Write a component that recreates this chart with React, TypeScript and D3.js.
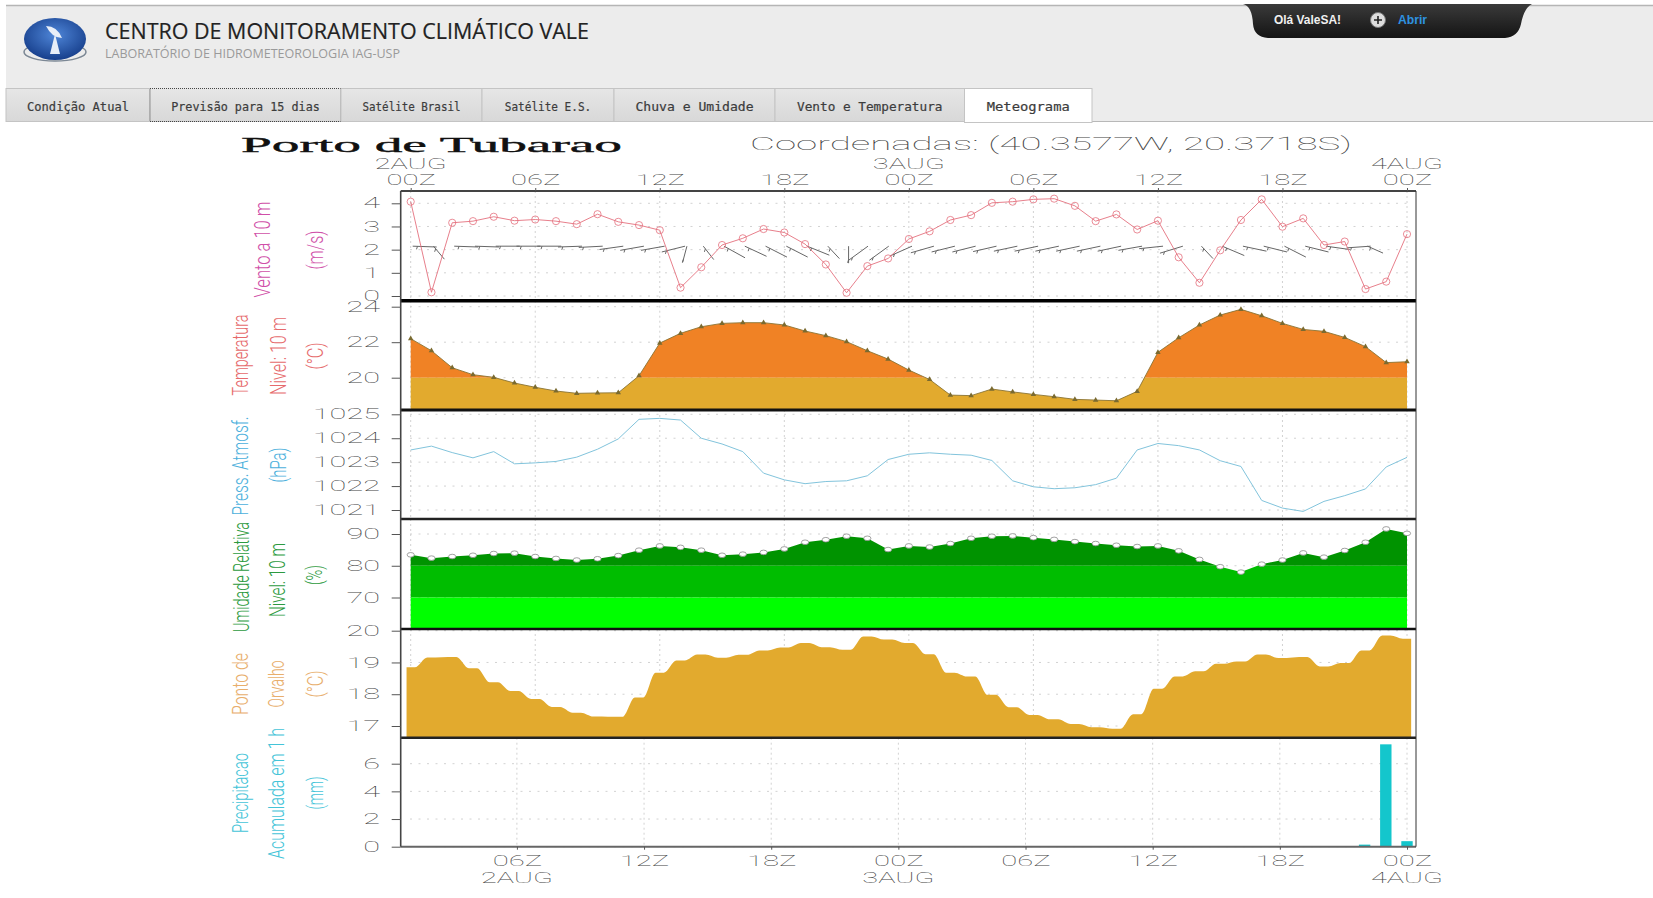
import { useEffect, useRef } from 'react';
import * as d3 from 'd3';

const windSpeed = [4.07, 0.16, 3.16, 3.23, 3.42, 3.25, 3.3, 3.23, 3.1, 3.53, 3.2, 3.06, 2.84, 0.36, 1.24, 2.2, 2.49, 2.89, 2.74, 2.24, 1.36, 0.14, 1.29, 1.62, 2.46, 2.79, 3.28, 3.49, 4.02, 4.07, 4.17, 4.2, 3.89, 3.23, 3.52, 2.87, 3.25, 1.67, 0.57, 1.97, 3.28, 4.17, 2.99, 3.35, 2.2, 2.35, 0.3, 0.62, 2.67];
// barb shaft angle per hour, degrees from horizontal (positive = falling to the right)
const windAngle: (number | null)[] = [2, 50, 2, 2, 0, 0, 0, -2, -3, -8, -10, -10, -14, -75, 52, 29, 25, 27, 27, 22, 47, -90, -36, -24, -16, -14, -14, -13, -12, -12, -12, -12, -12, -12, -10, -6, -17, null, 47, 23, 12, 14, 27, 14, 8, -4, 24, null, null];
const temperature = [22.2, 21.52, 20.56, 20.17, 20.02, 19.7, 19.46, 19.25, 19.12, 19.14, 19.15, 20.11, 21.95, 22.5, 22.87, 23.06, 23.1, 23.1, 22.97, 22.63, 22.37, 22.03, 21.52, 21.05, 20.43, 19.9, 19.02, 18.99, 19.36, 19.2, 19.06, 18.93, 18.78, 18.74, 18.7, 19.23, 21.43, 22.25, 22.97, 23.53, 23.85, 23.49, 23.06, 22.72, 22.61, 22.27, 21.75, 20.85, 20.9];
const pressure = [1023.51, 1023.67, 1023.4, 1023.18, 1023.44, 1022.93, 1022.97, 1023.03, 1023.21, 1023.54, 1023.97, 1024.79, 1024.83, 1024.76, 1024.0, 1023.76, 1023.44, 1022.54, 1022.26, 1022.1, 1022.19, 1022.22, 1022.43, 1023.11, 1023.33, 1023.39, 1023.33, 1023.29, 1023.07, 1022.22, 1021.97, 1021.89, 1021.93, 1022.06, 1022.33, 1023.51, 1023.78, 1023.69, 1023.51, 1023.06, 1022.82, 1021.4, 1021.08, 1020.94, 1021.36, 1021.6, 1021.88, 1022.8, 1023.2];
const humidity = [83.44, 82.4, 82.9, 83.3, 83.85, 83.96, 82.9, 82.3, 81.8, 82.2, 83.2, 84.9, 86.25, 85.8, 84.9, 83.3, 83.65, 84.2, 85.3, 87.4, 88.2, 89.3, 88.65, 85.1, 86.25, 85.9, 87.0, 88.65, 89.3, 89.4, 88.85, 88.3, 87.6, 87, 86.45, 86.05, 86.25, 84.7, 82, 79.7, 78, 80.5, 81.8, 84.05, 82.7, 84.8, 87.4, 91.6, 90.2];
const dewPoint = [18.85, 19.16, 19.17, 18.82, 18.38, 18.1, 17.85, 17.6, 17.42, 17.3, 17.29, 17.9, 18.68, 19.06, 19.25, 19.15, 19.24, 19.38, 19.47, 19.61, 19.48, 19.4, 19.82, 19.72, 19.61, 19.26, 18.68, 18.56, 17.98, 17.59, 17.35, 17.21, 17.06, 16.96, 16.91, 17.37, 18.17, 18.56, 18.72, 18.96, 19.03, 19.25, 19.14, 19.17, 18.87, 18.98, 19.38, 19.85, 19.75];
const rainHours = [46, 47, 48];
const rainValues = [0.15, 7.4, 0.4];

const topTicks = [0, 6, 12, 18, 24, 30, 36, 42, 48];
const topTickLabels = ['00Z', '06Z', '12Z', '18Z', '00Z', '06Z', '12Z', '18Z', '00Z'];
const bottomTicks = [6, 12, 18, 24, 30, 36, 42, 48];
const bottomTickLabels = ['06Z', '12Z', '18Z', '00Z', '06Z', '12Z', '18Z', '00Z'];
const topDays: [number, string][] = [[0, '2AUG'], [24, '3AUG'], [48, '4AUG']];
const bottomDays: [number, string][] = [[6, '2AUG'], [24, '3AUG'], [48, '4AUG']];
const navTabs = ['Condição Atual', 'Previsão para 15 dias', 'Satélite Brasil', 'Satélite E.S.', 'Chuva e Umidade', 'Vento e Temperatura', 'Meteograma'];
const navEdges = [6, 150, 341, 482, 614, 775, 964.5, 1092];
const navTextWidths = [102, 148.6, 98, 86.4, 118, 145.5, 83];

const hours = d3.range(49);
const GRADS_FONT = "Roboto, 'Liberation Sans', sans-serif";
const panelEdges = [191, 300.7, 410, 519, 629, 737.7, 846.7];
const plotLeft = 400.7;
const plotRight = 1416;

const axisTitles = [
  { text: 'Vento a 10 m', cx: 262, cy: 249.5, len: 96, color: '#d04fa8' },
  { text: '(m/s)', cx: 315, cy: 250, len: 39, color: '#d04fa8' },
  { text: 'Temperatura', cx: 240, cy: 355, len: 81, color: '#e66a6c' },
  { text: 'Nivel: 10 m', cx: 278, cy: 356, len: 78, color: '#e66a6c' },
  { text: '(°C)', cx: 315, cy: 356, len: 27, color: '#e66a6c' },
  { text: 'Press. Atmosf.', cx: 240, cy: 466, len: 99, color: '#4cb0dc' },
  { text: '(hPa)', cx: 278, cy: 465, len: 35, color: '#4cb0dc' },
  { text: 'Umidade Relativa', cx: 241, cy: 577, len: 110, color: '#2c9a40' },
  { text: 'Nivel: 10 m', cx: 277, cy: 580, len: 74, color: '#2c9a40' },
  { text: '(%)', cx: 314, cy: 575, len: 20, color: '#2c9a40' },
  { text: 'Ponto de', cx: 240, cy: 684, len: 62, color: '#e8ae6c' },
  { text: 'Orvalho', cx: 276.5, cy: 684, len: 47, color: '#e8ae6c' },
  { text: '(°C)', cx: 315, cy: 684, len: 27, color: '#e8ae6c' },
  { text: 'Precipitacao', cx: 240, cy: 793, len: 80, color: '#44c4d8' },
  { text: 'Acumulada em 1 h', cx: 276.5, cy: 793.5, len: 131, color: '#44c4d8' },
  { text: '(mm)', cx: 315, cy: 793, len: 33, color: '#44c4d8' },
];

function stretched(selection: any, perChar: number) {
  selection
    .attr('font-family', GRADS_FONT)
    .attr('font-weight', 100)
    .attr('font-size', 14.5)
    .attr('fill', '#444')
    .attr('lengthAdjust', 'spacingAndGlyphs')
    .attr('textLength', function (this: SVGTextElement) {
      return (this.textContent ?? '').length * perChar;
    });
}

export default function App() {
  const svgRef = useRef<SVGSVGElement>(null);

  useEffect(() => {
    if (!svgRef.current) return;
    const svg = d3.select(svgRef.current);
    svg.select('.meteogram').remove();
    const chart = svg.append('g').attr('class', 'meteogram');
    const defs = chart.append('defs');

    const x = d3.scaleLinear().domain([0, 48]).range([410.7, 1407]);
    const xLow = d3.scaleLinear().domain([6, 48]).range([516.9, 1407]);

    const yWind = d3.scaleLinear().domain([0, 4]).range([296, 203.3]);
    const yTemp = d3.scaleLinear().domain([20, 24]).range([377.7, 306.7]);
    const yPress = d3.scaleLinear().domain([1021, 1025]).range([510, 414.3]);
    const yHum = d3.scaleLinear().domain([70, 90]).range([597.5, 534]);
    const yDew = d3.scaleLinear().domain([17, 20]).range([726, 630.7]);
    const yRain = d3.scaleLinear().domain([0, 6]).range([846.7, 763.7]);

    const panels = [
      { y: yWind, ticks: [0, 1, 2, 3, 4], scaleX: x, xTicks: topTicks },
      { y: yTemp, ticks: [20, 22, 24], scaleX: x, xTicks: topTicks },
      { y: yPress, ticks: [1021, 1022, 1023, 1024, 1025], scaleX: x, xTicks: topTicks },
      { y: yHum, ticks: [70, 80, 90], scaleX: x, xTicks: topTicks },
      { y: yDew, ticks: [17, 18, 19, 20], scaleX: x, xTicks: topTicks },
      { y: yRain, ticks: [0, 2, 4, 6], scaleX: xLow, xTicks: bottomTicks },
    ];

    // grid first, the fills cover it
    panels.forEach((panel, i) => {
      const grid = chart.append('g');
      grid
        .selectAll('line.h')
        .data(panel.ticks)
        .join('line')
        .attr('class', 'h')
        .attr('x1', 410)
        .attr('x2', 1412)
        .attr('y1', (d) => panel.y(d))
        .attr('y2', (d) => panel.y(d))
        .attr('stroke', '#d2d2d2')
        .attr('stroke-dasharray', '2 6.5');
      grid
        .selectAll('line.v')
        .data(panel.xTicks)
        .join('line')
        .attr('class', 'v')
        .attr('x1', (d) => panel.scaleX(d))
        .attr('x2', (d) => panel.scaleX(d))
        .attr('y1', panelEdges[i])
        .attr('y2', panelEdges[i + 1])
        .attr('stroke', '#d2d2d2')
        .attr('stroke-dasharray', '2 3');
    });

    // wind
    const barbTop = yWind(2.15);
    const barbEnds = (h: number, angle: number, len: number) => {
      const rad = (angle * Math.PI) / 180;
      const dx = len * Math.cos(rad);
      const dy = len * Math.sin(rad);
      const x0 = x(h) + 2;
      return dy >= 0
        ? { x1: x0, y1: barbTop, x2: x0 + dx, y2: barbTop + dy }
        : { x1: x0, y1: barbTop - dy, x2: x0 + dx, y2: barbTop };
    };
    const barbs = hours.filter((h) => windAngle[h] !== null).map((h) => {
      const short = windSpeed[h] < 1.4 && h !== 22 ? 17 : 24;
      return barbEnds(h, windAngle[h] as number, short);
    });
    barbs.push(barbEnds(21, -36, 24));
    const barbGroup = chart.append('g').attr('stroke', '#666').attr('stroke-width', 1);
    barbGroup
      .selectAll('line.shaft')
      .data(barbs)
      .join('line')
      .attr('class', 'shaft')
      .attr('x1', (d) => d.x1)
      .attr('y1', (d) => d.y1)
      .attr('x2', (d) => d.x2)
      .attr('y2', (d) => d.y2);
    barbGroup
      .selectAll('line.feather')
      .data(barbs)
      .join('line')
      .attr('class', 'feather')
      .attr('x1', (d) => d.x1 + (d.x2 - d.x1) * 0.2)
      .attr('y1', (d) => d.y1 + (d.y2 - d.y1) * 0.2)
      .attr('x2', (d) => d.x1 + (d.x2 - d.x1) * 0.2 - 1)
      .attr('y2', (d) => d.y1 + (d.y2 - d.y1) * 0.2 + 3);

    const windLine = d3.line<number>().x((h) => x(h)).y((h) => yWind(windSpeed[h]));
    chart
      .append('path')
      .attr('d', windLine(hours))
      .attr('fill', 'none')
      .attr('stroke', '#e4707e')
      .attr('stroke-width', 0.9);
    chart
      .append('g')
      .selectAll('circle')
      .data(hours)
      .join('circle')
      .attr('cx', (h) => x(h))
      .attr('cy', (h) => yWind(windSpeed[h]))
      .attr('r', 3.6)
      .attr('fill', 'none')
      .attr('stroke', '#e4707e')
      .attr('stroke-width', 0.8);

    // banded fills: one area, clipped to each colour band
    const band = (
      id: string,
      y0: number,
      y1: number,
      color: string,
      values: number[],
      yScale: d3.ScaleLinear<number, number>,
      bottom: number
    ) => {
      defs
        .append('clipPath')
        .attr('id', id)
        .append('rect')
        .attr('x', 400)
        .attr('width', 1020)
        .attr('y', y0)
        .attr('height', y1 - y0);
      const area = d3.area<number>().x((h) => x(h)).y0(bottom).y1((h) => yScale(values[h]));
      chart
        .append('path')
        .attr('d', area(hours))
        .attr('fill', color)
        .attr('clip-path', `url(#${id})`);
    };

    band('temp-hot', panelEdges[1], yTemp(20), '#f08225', temperature, yTemp, panelEdges[2]);
    band('temp-cool', yTemp(20), panelEdges[2], '#e2aa2e', temperature, yTemp, panelEdges[2]);
    chart
      .append('path')
      .attr('d', d3.line<number>().x((h) => x(h)).y((h) => yTemp(temperature[h]))(hours))
      .attr('fill', 'none')
      .attr('stroke', '#8a7434')
      .attr('stroke-width', 0.9);
    chart
      .append('g')
      .selectAll('path')
      .data(hours)
      .join('path')
      .attr('d', d3.symbol(d3.symbolTriangle, 13))
      .attr('transform', (h) => `translate(${x(h)},${yTemp(temperature[h])})`)
      .attr('fill', '#7a6a30');

    // pressure
    chart
      .append('path')
      .attr('d', d3.line<number>().x((h) => x(h)).y((h) => yPress(pressure[h]))(hours))
      .attr('fill', 'none')
      .attr('stroke', '#82c4dc')
      .attr('stroke-width', 1);

    // humidity
    band('hum-high', panelEdges[3], yHum(80), '#009300', humidity, yHum, panelEdges[4]);
    band('hum-mid', yHum(80), yHum(70), '#00bd00', humidity, yHum, panelEdges[4]);
    band('hum-low', yHum(70), panelEdges[4], '#00ff00', humidity, yHum, panelEdges[4]);
    chart
      .append('g')
      .selectAll('ellipse')
      .data(hours)
      .join('ellipse')
      .attr('cx', (h) => x(h))
      .attr('cy', (h) => yHum(humidity[h]))
      .attr('rx', 3.6)
      .attr('ry', 2.3)
      .attr('fill', '#fff')
      .attr('stroke', '#8a8a8a')
      .attr('stroke-width', 0.8);

    // dew point: each hourly value holds as a short plateau
    const dewArea = d3
      .area<[number, number]>()
      .x((d) => x(d[0]))
      .y0(panelEdges[5])
      .y1((d) => yDew(d[1]))
      .curve(d3.curveMonotoneX);
    const dewPoints = hours.flatMap((h): [number, number][] => [
      [h - 0.2, dewPoint[h]],
      [h + 0.2, dewPoint[h]],
    ]);
    chart.append('path').attr('d', dewArea(dewPoints)).attr('fill', '#e2aa2e');

    // rain
    chart
      .append('g')
      .selectAll('rect')
      .data(rainHours)
      .join('rect')
      .attr('x', (h) => xLow(h) - 5.7)
      .attr('width', 11.4)
      .attr('y', (h, i) => yRain(rainValues[i]))
      .attr('height', (h, i) => yRain(0) - yRain(rainValues[i]))
      .attr('fill', '#14c6cc');

    // frames
    const frameWidths = [2, 3.5, 3, 2.5, 2.5, 2.5, 2];
    const frameColors = ['#444', '#000', '#111', '#222', '#111', '#222', '#666'];
    chart
      .append('g')
      .selectAll('line')
      .data(panelEdges)
      .join('line')
      .attr('x1', plotLeft)
      .attr('x2', plotRight)
      .attr('y1', (d) => d)
      .attr('y2', (d) => d)
      .attr('stroke', (d, i) => frameColors[i])
      .attr('stroke-width', (d, i) => frameWidths[i]);
    chart
      .append('line')
      .attr('x1', plotLeft)
      .attr('x2', plotLeft)
      .attr('y1', panelEdges[0])
      .attr('y2', panelEdges[6])
      .attr('stroke', '#444')
      .attr('stroke-width', 1.6);
    chart
      .append('line')
      .attr('x1', plotRight)
      .attr('x2', plotRight)
      .attr('y1', panelEdges[0])
      .attr('y2', panelEdges[6])
      .attr('stroke', '#333')
      .attr('stroke-width', 1);

    // y axes
    panels.forEach((panel) => {
      chart
        .append('g')
        .attr('transform', `translate(${plotLeft},0)`)
        .call(d3.axisLeft(panel.y).tickValues(panel.ticks).tickSize(9).tickPadding(11.7).tickFormat(d3.format('d')))
        .call((group) => {
          group.select('.domain').remove();
          group.selectAll('.tick line').attr('stroke', '#555');
          group.selectAll('.tick text').call(stretched, 16.8);
        });
    });

    // x axes
    chart
      .append('g')
      .attr('transform', `translate(0,${panelEdges[0]})`)
      .call(
        d3
          .axisTop(x)
          .tickValues(topTicks)
          .tickSize(3)
          .tickPadding(3)
          .tickFormat((d, i) => topTickLabels[i])
      )
      .call((group) => {
        group.select('.domain').remove();
        group.selectAll('.tick line').attr('stroke', '#555');
        group.selectAll('.tick text').call(stretched, 16.5);
      });
    chart
      .append('g')
      .attr('transform', `translate(0,${panelEdges[6]})`)
      .call(
        d3
          .axisBottom(xLow)
          .tickValues(bottomTicks)
          .tickSize(3)
          .tickPadding(6)
          .tickFormat((d, i) => bottomTickLabels[i])
      )
      .call((group) => {
        group.select('.domain').remove();
        group.selectAll('.tick line').attr('stroke', '#555');
        group.selectAll('.tick text').call(stretched, 16.5);
      });

    chart
      .append('g')
      .selectAll('text')
      .data(topDays)
      .join('text')
      .attr('x', (d) => x(d[0]))
      .attr('y', 168.5)
      .attr('text-anchor', 'middle')
      .text((d) => d[1])
      .call(stretched, 18);
    chart
      .append('g')
      .selectAll('text')
      .data(bottomDays)
      .join('text')
      .attr('x', (d) => xLow(d[0]))
      .attr('y', 883)
      .attr('text-anchor', 'middle')
      .text((d) => d[1])
      .call(stretched, 18);
  }, []);

  return (
    <>
      <style>{'body{margin:0;background:#fff}'}</style>
      <svg ref={svgRef} width={1653} height={898} style={{ display: 'block' }}>
        <defs>
          <radialGradient id="logo-blue" cx="50%" cy="40%" r="60%">
            <stop offset="0%" stopColor="#4f86d8" />
            <stop offset="100%" stopColor="#173f8c" />
          </radialGradient>
          <linearGradient id="panel-dark" x1="0" x2="0" y1="0" y2="1">
            <stop offset="0%" stopColor="#3a3a3a" />
            <stop offset="100%" stopColor="#141414" />
          </linearGradient>
          <linearGradient id="tab-grey" x1="0" x2="0" y1="0" y2="1">
            <stop offset="0%" stopColor="#e6e6e6" />
            <stop offset="100%" stopColor="#d8d8d8" />
          </linearGradient>
        </defs>

        <rect x={6} y={5} width={1647} height={116} fill="#ececec" />
        <line x1={6} x2={1653} y1={5.5} y2={5.5} stroke="#b5b5b5" strokeWidth={1.5} />

        <ellipse cx={55} cy={52} rx={31} ry={9} fill="none" stroke="#7b8794" strokeWidth={1.5} />
        <ellipse cx={55} cy={39} rx={31} ry={21} fill="url(#logo-blue)" />
        <path d="M50 54 L55 34 L60 54 Z M46 26 Q57 26 62 38 Q52 38 46 26 Z" fill="#e8eef8" />

        <text x={105} y={39} fontFamily="'Open Sans', sans-serif" fontSize={22.5} fill="#222" stroke="#222" strokeWidth={0.2} textLength={484} lengthAdjust="spacingAndGlyphs">
          CENTRO DE MONITORAMENTO CLIMÁTICO VALE
        </text>
        <text x={105} y={58} fontFamily="'Open Sans', sans-serif" fontSize={12.5} fill="#9a9a9a" textLength={295} lengthAdjust="spacingAndGlyphs">
          LABORATÓRIO DE HIDROMETEOROLOGIA IAG-USP
        </text>

        <path d="M1243 4 Q1252 6 1253 24 Q1254 37 1268 38 L1505 38 Q1518 37 1521 24 Q1524 8 1532 4 Z" fill="url(#panel-dark)" />
        <text x={1274} y={24} fontFamily="'Liberation Sans', sans-serif" fontWeight={700} fontSize={12} fill="#f0f0f0" textLength={67} lengthAdjust="spacingAndGlyphs">
          Olá ValeSA!
        </text>
        <circle cx={1378} cy={20} r={7.5} fill="#dcdcdc" stroke="#777" />
        <path d="M1374 20 H1382 M1378 16 V24" stroke="#222" strokeWidth={1.6} />
        <text x={1398} y={24} fontFamily="'Liberation Sans', sans-serif" fontWeight={700} fontSize={12} fill="#2e93e0" textLength={29} lengthAdjust="spacingAndGlyphs">
          Abrir
        </text>

        <line x1={6} x2={1653} y1={121.5} y2={121.5} stroke="#b8b8b8" />
        {navTabs.map((tab, i) => {
          const active = i === navTabs.length - 1;
          const left = navEdges[i];
          const right = navEdges[i + 1];
          return (
            <g key={tab}>
              <rect
                x={left}
                y={88.5}
                width={right - left}
                height={active ? 34 : 33}
                fill={active ? '#fff' : 'url(#tab-grey)'}
                stroke={i === 1 ? '#444' : '#c4c4c4'}
                strokeDasharray={i === 1 ? '1 1' : undefined}
              />
              <text
                x={(left + right) / 2}
                y={111}
                textAnchor="middle"
                fontFamily="'DejaVu Sans Mono', monospace"
                fontSize={12.2}
                fill="#3c3c3c"
                stroke="#3c3c3c"
                strokeWidth={0.2}
                textLength={navTextWidths[i]}
                lengthAdjust="spacingAndGlyphs"
              >
                {tab}
              </text>
            </g>
          );
        })}

        <text x={241} y={152} fontFamily="'Liberation Serif', serif" fontSize={22} fill="#111" stroke="#111" strokeWidth={0.4} textLength={381} lengthAdjust="spacingAndGlyphs">
          Porto de Tubarao
        </text>
        <text x={750} y={150} fontFamily={GRADS_FONT} fontWeight={100} fontSize={18} fill="#444" textLength={602} lengthAdjust="spacingAndGlyphs">
          Coordenadas: (40.3577W, 20.3718S)
        </text>

        {axisTitles.map((t) => (
          <text
            key={t.text + t.cy}
            transform={`translate(${t.cx},${t.cy}) rotate(-90)`}
            textAnchor="middle"
            dominantBaseline="central"
            fontFamily={GRADS_FONT}
            fontWeight={300}
            fontSize={22}
            fill={t.color}
            textLength={t.len}
            lengthAdjust="spacingAndGlyphs"
          >
            {t.text}
          </text>
        ))}
      </svg>
    </>
  );
}
